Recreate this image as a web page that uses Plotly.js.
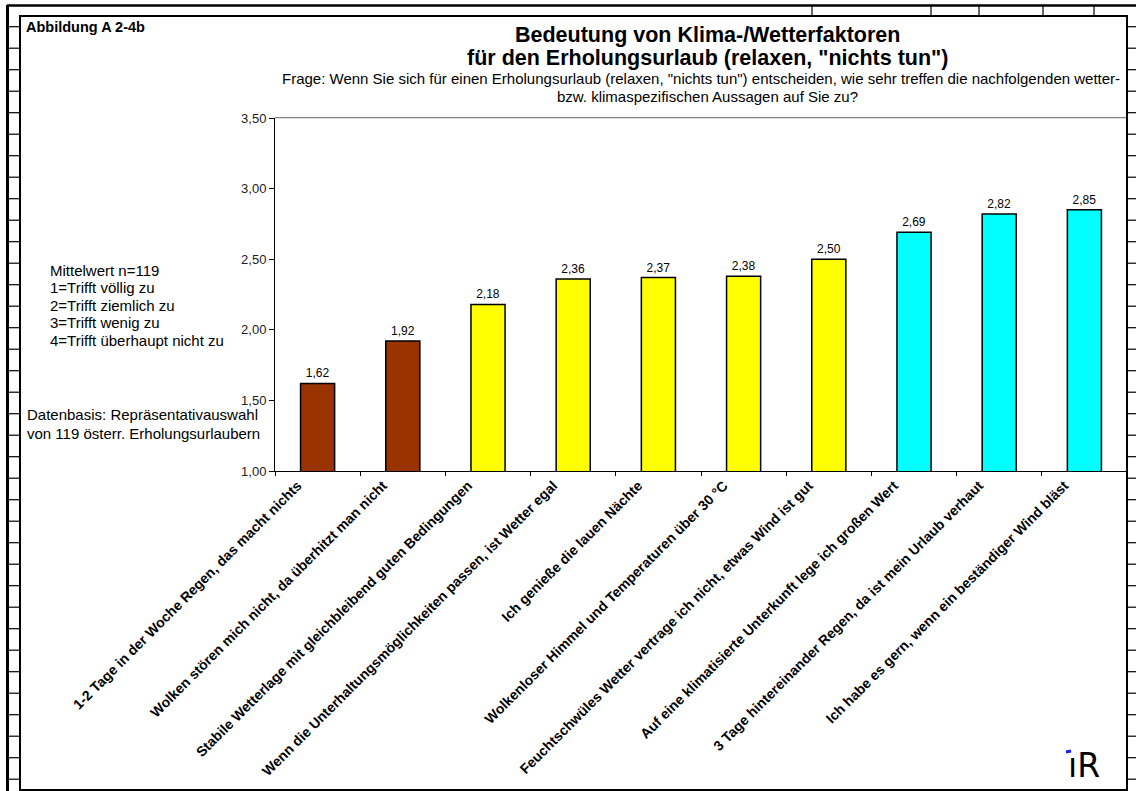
<!DOCTYPE html>
<html>
<head>
<meta charset="utf-8">
<script src="https://cdn.plot.ly/plotly-3.0.1.min.js"></script>
<style>html,body{margin:0;padding:0;background:#fff;}#chart{width:1136px;height:791px;}</style>
</head>
<body>
<div id="chart"></div>
<script>
const categories = [
  "1-2 Tage in der Woche Regen, das macht nichts",
  "Wolken stören mich nicht, da überhitzt man nicht",
  "Stabile Wetterlage mit gleichbleibend guten Bedingungen",
  "Wenn die Unterhaltungsmöglichkeiten passen, ist Wetter egal",
  "Ich genieße die lauen Nächte",
  "Wolkenloser Himmel und Temperaturen über 30 °C",
  "Feuchtschwüles Wetter vertrage ich nicht, etwas Wind ist gut",
  "Auf eine klimatisierte Unterkunft lege ich großen Wert",
  "3 Tage hintereinander Regen, da ist mein Urlaub verhaut",
  "Ich habe es gern, wenn ein beständiger Wind bläst"
];
const values = [1.62, 1.92, 2.18, 2.36, 2.37, 2.38, 2.50, 2.69, 2.82, 2.85];
const barColors = ["#993300", "#993300", "#FFFF00", "#FFFF00", "#FFFF00", "#FFFF00", "#FFFF00", "#00FFFF", "#00FFFF", "#00FFFF"];
const yTicks = [1.0, 1.5, 2.0, 2.5, 3.0, 3.5];
const legendLines = ["Mittelwert n=119", "1=Trifft völlig zu", "2=Trifft ziemlich zu", "3=Trifft wenig zu", "4=Trifft überhaupt nicht zu"];
const sourceLines = ["Datenbasis: Repräsentativauswahl", "von 119 österr. Erholungsurlaubern"];

const W = 1136, H = 791;
const M = {l: 275, r: 9, t: 118, b: 320};
const PW = W - M.l - M.r, PH = H - M.t - M.b;
const px = v => (v - M.l) / PW;
const py = v => (H - M.b - v) / PH;
const FONT = "Liberation Sans, Arial, sans-serif";

const shapes = [];
function line(x0, y0, x1, y1, color, width) {
  shapes.push({type: "line", xref: "paper", yref: "paper", x0: px(x0), y0: py(y0), x1: px(x1), y1: py(y1), line: {color: color, width: width}, layer: "above"});
}
// outer spreadsheet frame
line(7, 5.5, 1136, 5.5, "#000", 2.5);
line(7.5, 5, 7.5, 791, "#000", 3);
for (let y = 26.7; y < 790; y += 21.5) {
  line(7, y, 20, y, "#000", 1.2);
  line(1127, y, 1136, y, "#000", 1.2);
}
[812, 931, 979, 1043, 1094].forEach(x => line(x, 5, x, 16, "#000", 1.2));
// top plot border (gray)
line(275, 117.7, 1127, 117.7, "#808080", 1.2);
// chart box
shapes.push({type: "rect", xref: "paper", yref: "paper", x0: px(20), y0: py(790), x1: px(1127), y1: py(16), line: {color: "#000", width: 2}, layer: "above"});
// logo dot
shapes.push({type: "line", xref: "paper", yref: "paper", x0: px(1066), y0: py(752), x1: px(1071), y1: py(751), line: {color: "#1a1aff", width: 3}});

const ann = [
  {text: "<b>Abbildung A 2-4b</b>", x: px(24), y: py(27), xanchor: "left", yanchor: "middle", font: {size: 14.5}},
  {text: "<b>Bedeutung von Klima-/Wetterfaktoren</b>", x: px(707), y: py(35), xanchor: "center", yanchor: "middle", font: {size: 21.5}},
  {text: "<b>für den Erholungsurlaub (relaxen, \"nichts tun\")</b>", x: px(707), y: py(58), xanchor: "center", yanchor: "middle", font: {size: 21.5}},
  {text: "Frage: Wenn Sie sich für einen Erholungsurlaub (relaxen, \"nichts tun\") entscheiden, wie sehr treffen die nachfolgenden wetter-", x: px(701), y: py(79), xanchor: "center", yanchor: "middle", font: {size: 15}},
  {text: "bzw. klimaspezifischen Aussagen auf Sie zu?", x: px(707), y: py(97), xanchor: "center", yanchor: "middle", font: {size: 15}},
  {text: "ıR", x: px(1084), y: py(765), xanchor: "center", yanchor: "middle", font: {size: 33, family: "DejaVu Sans, sans-serif"}}
];
legendLines.forEach((t, i) => ann.push({text: t, x: px(48), y: py(270 + i * 17.5), xanchor: "left", yanchor: "middle", font: {size: 15}}));
sourceLines.forEach((t, i) => ann.push({text: t, x: px(25), y: py(414 + i * 19), xanchor: "left", yanchor: "middle", font: {size: 15}}));
const annotations = ann.map(a => Object.assign({xref: "paper", yref: "paper", showarrow: false}, a, {font: Object.assign({family: FONT, color: "#000"}, a.font)}));

const trace = {
  type: "bar",
  x: categories,
  y: values,
  marker: {color: barColors, line: {color: "#000", width: 1.5}},
  texttemplate: "%{y:.2f}",
  textposition: "outside",
  textfont: {family: FONT, size: 12, color: "#000"},
  cliponaxis: false,
  hoverinfo: "skip"
};

const layout = {
  width: W, height: H,
  margin: M,
  separators: ",.",
  paper_bgcolor: "#fff",
  plot_bgcolor: "#fff",
  showlegend: false,
  bargap: 0.6,
  font: {family: FONT, color: "#000"},
  xaxis: {
    type: "category",
    tickangle: -45,
    ticks: "outside",
    tickson: "boundaries",
    ticklen: 4,
    tickcolor: "#000",
    showline: true,
    linecolor: "#000",
    linewidth: 1,
    showgrid: false,
    ticklabelshift: -20,
    tickfont: {family: FONT, size: 14, color: "#000", weight: "bold"},
    fixedrange: true
  },
  yaxis: {
    range: [1, 3.5],
    tickvals: yTicks,
    tickformat: ".2f",
    ticks: "outside",
    ticklen: 5,
    tickcolor: "#000",
    showline: true,
    linecolor: "#000",
    linewidth: 1,
    showgrid: false,
    zeroline: false,
    tickfont: {family: FONT, size: 13, color: "#222"},
    fixedrange: true
  },
  shapes: shapes,
  annotations: annotations
};

Plotly.newPlot("chart", [trace], layout, {displayModeBar: false, staticPlot: true});
</script>
</body>
</html>
